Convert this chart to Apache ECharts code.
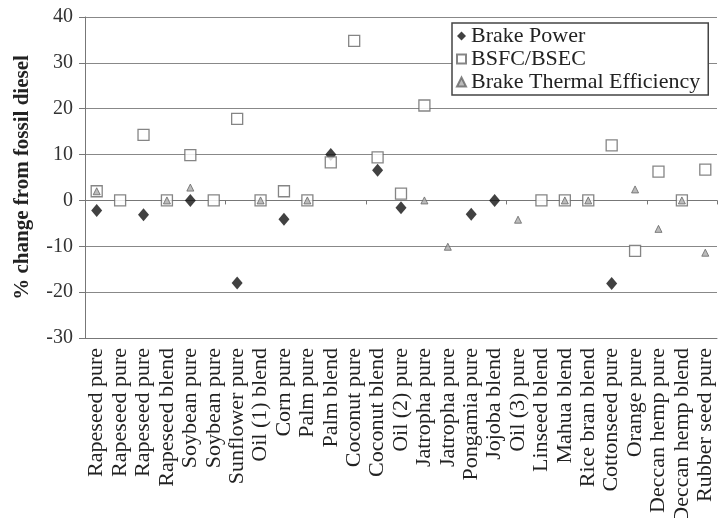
<!DOCTYPE html>
<html>
<head>
<meta charset="utf-8">
<script src="https://cdn.jsdelivr.net/npm/echarts@6/dist/echarts.min.js"></script>
<style>
html,body{margin:0;padding:0;background:#fff;}
#chart{width:718px;height:518px;}
</style>
</head>
<body>
<div id="chart"></div>
<script>
// categories along x
var cats = ['Rapeseed pure','Rapeseed pure','Rapeseed pure','Rapeseed blend','Soybean pure','Soybean pure',
  'Sunflower pure','Oil (1) blend','Corn pure','Palm pure','Palm blend','Coconut pure','Coconut blend',
  'Oil (2) pure','Jatropha pure','Jatropha pure','Pongamia pure','Jojoba blend','Oil (3) pure',
  'Linseed blend','Mahua blend','Rice bran blend','Cottonseed pure','Orange pure','Deccan hemp pure',
  'Deccan hemp blend','Rubber seed pure'];

// % change values (null = no point)
var brakePower = [-2.2,null,-3.1,null,0,null,-18,null,-4.1,null,10,null,6.6,
  -1.6,null,null,-3.0,0,null,null,null,null,-18.1,null,null,null,null];
var bsfc = [2,0,14.3,0,9.9,0,17.8,0,2,0,8.3,34.8,9.4,
  1.5,20.7,null,null,null,null,0,0,0,12,-11,6.3,0,6.7];
var bte = [2,null,null,0,2.8,null,null,0,null,0,null,null,null,
  null,0,-10.1,null,null,-4.2,null,0,0,null,2.4,-6.2,0,-11.4];

var yTicks = {min:-30, max:40, step:10};

var serif = 'Liberation Serif';
var chart = echarts.init(document.getElementById('chart'));

var option = {
  backgroundColor:'#fff',
  animation:false,
  grid:{left:85, top:17, right:1, bottom:180, outerBoundsMode:'none', containLabel:false},
  legend:{
    orient:'vertical',
    left:452, top:23,
    padding:[2,8,2,4],
    itemGap:1,
    itemWidth:9, itemHeight:9,
    borderColor:'#444', borderWidth:1.5,
    backgroundColor:'#fff',
    textStyle:{fontFamily:serif, fontSize:22, color:'#222'},
    data:['Brake Power','BSFC/BSEC','Brake Thermal Efficiency']
  },
  xAxis:[{
    type:'category',
    data:cats,
    axisLine:{onZero:false, lineStyle:{color:'#777'}},
    axisTick:{show:false},
    axisLabel:{rotate:90, margin:10, interval:0, fontFamily:serif, fontSize:22, color:'#222'}
  },{
    type:'category',
    data:cats,
    position:'bottom',
    axisLine:{onZero:true, lineStyle:{color:'#777'}},
    axisTick:{show:true, length:4, lineStyle:{color:'#777'}},
    axisLabel:{show:false}
  }],
  yAxis:{
    type:'value',
    min:yTicks.min, max:yTicks.max, interval:yTicks.step,
    name:'% change from fossil diesel',
    nameLocation:'middle',
    nameRotate:90,
    nameGap:52,
    nameTextStyle:{fontFamily:serif, fontSize:21, fontWeight:'bold', color:'#222'},
    axisLine:{show:true, lineStyle:{color:'#777'}},
    axisTick:{show:true, length:6, lineStyle:{color:'#777'}},
    axisLabel:{margin:12, fontFamily:serif, fontSize:20, color:'#333'},
    splitLine:{show:true, lineStyle:{color:'#888', width:1}}
  },
  series:[{
    name:'Brake Power',
    type:'scatter',
    data:brakePower,
    symbol:'diamond',
    symbolSize:[11,13],
    itemStyle:{color:'#111'}
  },{
    name:'BSFC/BSEC',
    type:'scatter',
    data:bsfc,
    symbol:'rect',
    symbolSize:11,
    itemStyle:{color:'#fff', borderColor:'#666', borderWidth:1.3}
  },{
    name:'Brake Thermal Efficiency',
    type:'scatter',
    data:bte,
    symbol:'triangle',
    symbolSize:7,
    itemStyle:{color:'#aaa', borderColor:'#666', borderWidth:1}
  }]
};
chart.setOption(option);
</script>
</body>
</html>
